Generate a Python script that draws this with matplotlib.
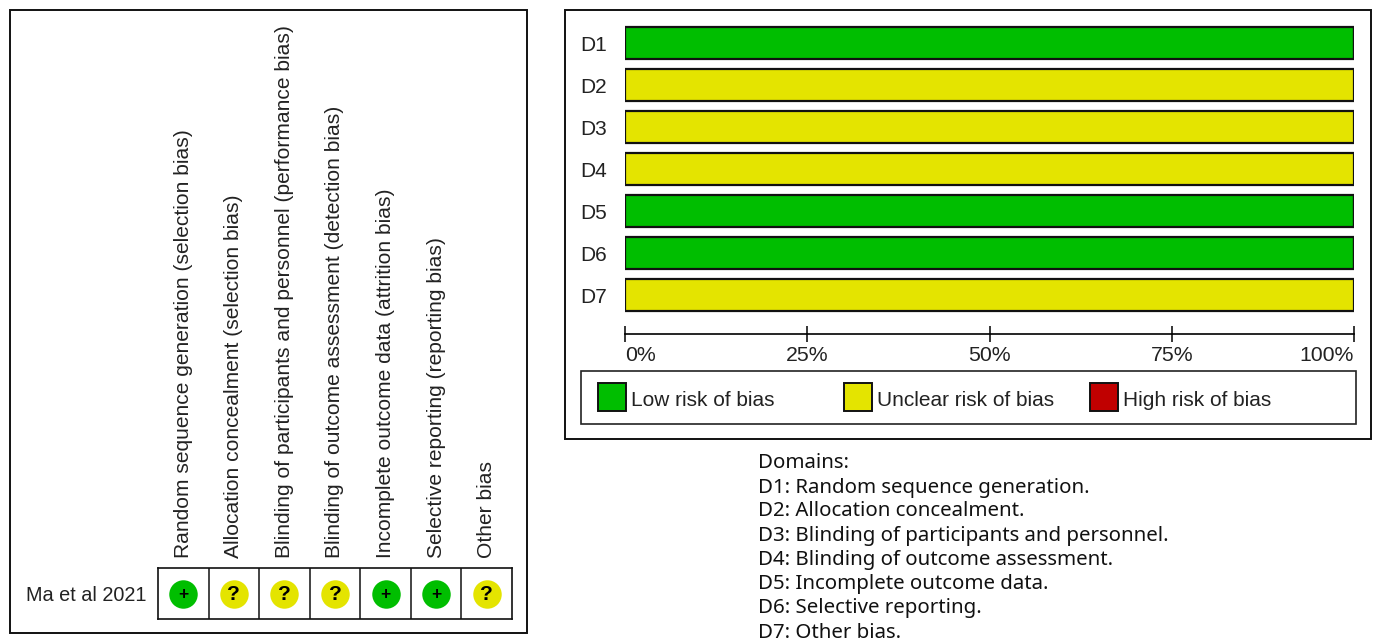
import matplotlib
matplotlib.use("Agg")
import matplotlib.pyplot as plt
from matplotlib.patches import Rectangle

W, H = 1376, 642
SANS = "Liberation Sans"
GREEN, YELLOW, RED = "#00BE00", "#E4E400", "#C00000"

# ---- data ----
study = "Ma et al 2021"
bias_items = [
    "Random sequence generation (selection bias)",
    "Allocation concealment (selection bias)",
    "Blinding of participants and personnel (performance bias)",
    "Blinding of outcome assessment (detection bias)",
    "Incomplete outcome data (attrition bias)",
    "Selective reporting (reporting bias)",
    "Other bias",
]
judgements = ["+", "?", "?", "?", "+", "+", "?"]
domains = ["D1", "D2", "D3", "D4", "D5", "D6", "D7"]
low_pct = [100, 0, 0, 0, 100, 100, 0]
unclear_pct = [0, 100, 100, 100, 0, 0, 100]
high_pct = [0, 0, 0, 0, 0, 0, 0]
x_ticks = [0, 25, 50, 75, 100]
x_ticklabels = ["0%", "25%", "50%", "75%", "100%"]
legend_labels = ["Low risk of bias", "Unclear risk of bias", "High risk of bias"]
domain_notes = [
    "Domains:",
    "D1: Random sequence generation.",
    "D2: Allocation concealment.",
    "D3: Blinding of participants and personnel.",
    "D4: Blinding of outcome assessment.",
    "D5: Incomplete outcome data.",
    "D6: Selective reporting.",
    "D7: Other bias.",
]
note_y_px = [463.5, 487.5, 511.5, 536.5, 560.5, 584.5, 608.5, 632.5]


def box(x0, y0, x1, y1):
    return [x0 / W, 1 - y1 / H, (x1 - x0) / W, (y1 - y0) / H]


def frame(x0, y0, x1, y1, fc="none", ec="#111111", lw=1.4):
    fig.add_artist(Rectangle((x0 / W, 1 - y1 / H), (x1 - x0) / W, (y1 - y0) / H,
                             transform=fig.transFigure, facecolor=fc,
                             edgecolor=ec, linewidth=lw))


fig = plt.figure(figsize=(W / 100, H / 100), dpi=100, facecolor="white")

frame(10, 10, 527, 633)
frame(565, 10, 1371, 439)

# ---- left: risk of bias summary ----
ax1 = fig.add_axes(box(158, 568, 512, 619))
ax1.set_xlim(-0.5, len(bias_items) - 0.5)
ax1.set_ylim(-0.5, 0.5)
for i, j in enumerate(judgements):
    c = GREEN if j == "+" else YELLOW
    ax1.plot(i, 0, "o", ms=20.5, mfc=c, mec="none")
    ax1.annotate(j, (i, 0), xytext=(0, -0.5), textcoords="offset points",
                 ha="center", va="center", color="black",
                 fontsize=12.5 if j == "+" else 15, fontweight="bold", family=SANS)
for i in range(1, len(bias_items)):
    ax1.axvline(i - 0.5, color="#111111", lw=1.1)
for s in ax1.spines.values():
    s.set_linewidth(1.2)
    s.set_color("#111111")
ax1.set_xticks(range(len(bias_items)))
ax1.set_xticklabels(bias_items, rotation=90, ha="center", va="bottom",
                    fontsize=15.1, family=SANS, color="#222222")
ax1.xaxis.tick_top()
ax1.tick_params(axis="x", length=0, pad=7)
ax1.set_yticks([0])
ax1.set_yticklabels([study], fontsize=14.3, family=SANS, color="#222222")
ax1.tick_params(axis="y", length=0, pad=8)

# ---- right: risk of bias graph ----
ax2 = fig.add_axes(box(625, 22, 1354, 316))
ypos = list(range(len(domains)))
bar_kw = dict(height=0.76, edgecolor="#111111", linewidth=1.6)
ax2.barh(ypos, low_pct, color=GREEN, **bar_kw)
ax2.barh(ypos, unclear_pct, left=low_pct, color=YELLOW, **bar_kw)
ax2.barh(ypos, high_pct, left=[a + b for a, b in zip(low_pct, unclear_pct)], color=RED,
         height=0.76, linewidth=0)
ax2.set_xlim(0, 100)
ax2.set_ylim(len(domains) - 0.5, -0.5)
ax2.set_yticks(ypos)
ax2.set_yticklabels(domains, fontsize=15, family=SANS, color="#222222")
ax2.tick_params(axis="y", length=0, pad=13)
for k in ["top", "left", "right"]:
    ax2.spines[k].set_visible(False)
ax2.spines["bottom"].set_position(("outward", 13))
ax2.spines["bottom"].set_linewidth(1.2)
ax2.set_xticks(x_ticks)
ax2.set_xticklabels(x_ticklabels, fontsize=15.3, family=SANS, color="#222222")
ax2.tick_params(axis="x", direction="inout", length=11, width=1.1, pad=3)
labs = ax2.get_xticklabels()
labs[0].set_ha("left")
labs[-1].set_ha("right")

# ---- legend ----
frame(581, 371, 1356, 424, fc="white", ec="#222222", lw=1.2)
legend_x_px = [598, 844, 1090]
for x, c, l in zip(legend_x_px, [GREEN, YELLOW, RED], legend_labels):
    frame(x, 383, x + 28, 411, fc=c, ec="#111111", lw=1.4)
    fig.text((x + 33) / W, 1 - 400 / H, l, ha="left", va="center",
             fontsize=15, family=SANS, color="#222222")

# ---- domain notes ----
for line, y in zip(domain_notes, note_y_px):
    fig.text(758 / W, 1 - y / H, line, ha="left", va="center",
             fontsize=14.7, family="Noto Sans", color="#111111")

fig.savefig("out.png", dpi=100, facecolor="white")
